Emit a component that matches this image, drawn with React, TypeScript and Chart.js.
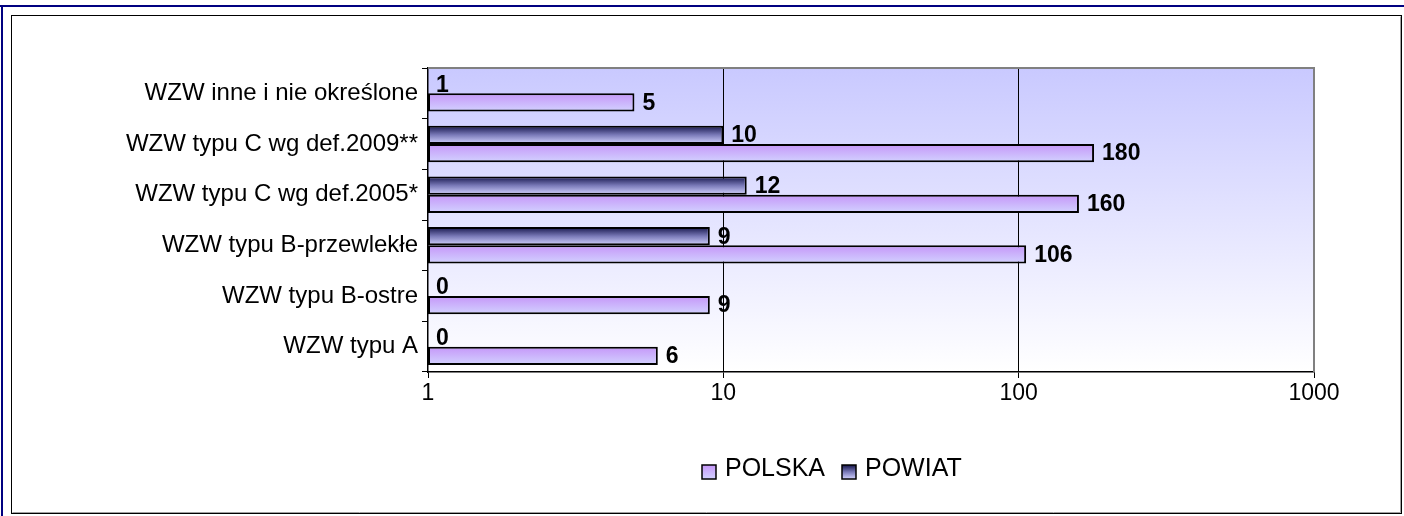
import React, { useEffect, useRef } from "react";
import { Chart, registerables } from "chart.js";

Chart.register(...registerables);

const categories = [
  "WZW inne i nie określone",
  "WZW typu C wg def.2009**",
  "WZW typu C wg def.2005*",
  "WZW typu B-przewlekłe",
  "WZW typu B-ostre",
  "WZW typu A",
];
const powiatValues = [1, 10, 12, 9, 0, 0];
const polskaValues = [5, 180, 160, 106, 9, 6];
const xTickValues = [1, 10, 100, 1000];
const legendNames = ["POLSKA", "POWIAT"];

const FONT = "'Liberation Sans', Arial, sans-serif";
const CAT_PCT = 0.72;

function barGradient(ctx: any, top: number, bottom: number, dark: boolean) {
  const g = ctx.createLinearGradient(0, top, 0, bottom);
  if (dark) {
    g.addColorStop(0, "#14144a");
    g.addColorStop(0.5, "#7a7ab8");
    g.addColorStop(1, "#d4d4ff");
  } else {
    g.addColorStop(0, "#c596f8");
    g.addColorStop(1, "#d2d2ff");
  }
  return g;
}

function scriptBg(dark: boolean, dsIndex: number) {
  return (c: any) => {
    const chart = c.chart;
    const ys = chart.scales && chart.scales.y;
    const area = chart.chartArea;
    if (!ys || !area) return dark ? "#6060a0" : "#cc99ff";
    const band = (area.bottom - area.top) / categories.length;
    const h = (band * CAT_PCT) / 2;
    const center = ys.getPixelForValue(c.dataIndex);
    const top = dsIndex === 0 ? center - h : center;
    return barGradient(chart.ctx, top, top + h, dark);
  };
}

const decorPlugin = {
  id: "decor",
  beforeDraw(chart: any) {
    const ctx = chart.ctx;
    const a = chart.chartArea;
    ctx.save();
    ctx.fillStyle = "#ffffff";
    ctx.fillRect(0, 0, chart.width, chart.height);
    ctx.fillStyle = "#000080";
    ctx.fillRect(0, 5, chart.width, 2);
    ctx.fillRect(1, 5, 2, chart.height - 5);
    ctx.strokeStyle = "#000000";
    ctx.lineWidth = 1;
    ctx.strokeRect(11.5, 15.5, 1390, 498);
    ctx.strokeStyle = "#a0a0a0";
    ctx.beginPath();
    ctx.moveTo(12.5, 512.5);
    ctx.lineTo(1400.5, 512.5);
    ctx.lineTo(1400.5, 16.5);
    ctx.stroke();
    const g = ctx.createLinearGradient(0, a.top, 0, a.bottom);
    g.addColorStop(0, "#c9c9ff");
    g.addColorStop(1, "#ffffff");
    ctx.fillStyle = g;
    ctx.fillRect(a.left, a.top, a.right - a.left, a.bottom - a.top);
    ctx.restore();
  },
  afterDraw(chart: any) {
    const ctx = chart.ctx;
    const a = chart.chartArea;
    ctx.save();
    ctx.strokeStyle = "#808080";
    ctx.lineWidth = 2;
    ctx.beginPath();
    ctx.moveTo(a.left, a.top);
    ctx.lineTo(a.right, a.top);
    ctx.lineTo(a.right, a.bottom);
    ctx.stroke();
    const items = [
      { name: legendNames[0], dark: false, x: 702 },
      { name: legendNames[1], dark: true, x: 842 },
    ];
    ctx.font = "25px " + FONT;
    ctx.textBaseline = "middle";
    ctx.textAlign = "left";
    items.forEach((it) => {
      ctx.fillStyle = barGradient(ctx, 465, 479, it.dark);
      ctx.fillRect(it.x, 465, 14, 14);
      ctx.strokeStyle = "#000000";
      ctx.lineWidth = 1.5;
      ctx.strokeRect(it.x, 465, 14, 14);
      ctx.fillStyle = "#000000";
      ctx.fillText(it.name, it.x + 23, 469);
    });
    ctx.restore();
  },
  afterDatasetsDraw(chart: any) {
    const ctx = chart.ctx;
    const a = chart.chartArea;
    const ys = chart.scales.y;
    const xs = chart.scales.x;
    const band = (a.bottom - a.top) / categories.length;
    const h = (band * CAT_PCT) / 2;
    ctx.save();
    ctx.font = "bold 23px " + FONT;
    ctx.fillStyle = "#000000";
    ctx.textBaseline = "middle";
    ctx.textAlign = "left";
    chart.data.datasets.forEach((ds: any, i: number) => {
      ds.data.forEach((v: number, j: number) => {
        const center = ys.getPixelForValue(j);
        const y = i === 0 ? center - h / 2 : center + h / 2;
        const x = v > 0 ? xs.getPixelForValue(v) : a.left;
        ctx.fillText(String(v), x + 8, y + 1);
      });
    });
    ctx.restore();
  },
};

export default function App() {
  const ref = useRef<HTMLCanvasElement | null>(null);
  useEffect(() => {
    document.body.style.margin = "0";
    const canvas = ref.current!;
    const chart = new Chart(canvas, {
      type: "bar",
      data: {
        labels: categories,
        datasets: [
          {
            label: legendNames[1],
            data: powiatValues,
            backgroundColor: scriptBg(true, 0),
            borderColor: "#000000",
            borderWidth: 2,
            borderSkipped: false,
            categoryPercentage: CAT_PCT,
            barPercentage: 1,
          },
          {
            label: legendNames[0],
            data: polskaValues,
            backgroundColor: scriptBg(false, 1),
            borderColor: "#000000",
            borderWidth: 2,
            borderSkipped: false,
            categoryPercentage: CAT_PCT,
            barPercentage: 1,
          },
        ],
      },
      options: {
        indexAxis: "y",
        responsive: false,
        animation: false,
        layout: { padding: { left: 0, top: 68, right: 90, bottom: 104 } },
        plugins: {
          legend: { display: false },
          tooltip: { enabled: false },
        },
        scales: {
          x: {
            type: "logarithmic",
            min: 1,
            max: 1000,
            afterBuildTicks: (s: any) => {
              s.ticks = xTickValues.map((v) => ({ value: v, major: true }));
            },
            afterFit: (s: any) => {
              s.height = 40;
            },
            ticks: {
              autoSkip: false,
              color: "#000000",
              font: { family: FONT, size: 23 },
              padding: 2,
              callback: (v: any) => String(v),
            },
            grid: {
              color: (c: any) =>
                c.tick && (c.tick.value === 10 || c.tick.value === 100) ? "#000000" : "rgba(0,0,0,0)",
              tickColor: "#000000",
              tickLength: 6,
              lineWidth: 1,
            },
            border: { display: true, color: "#000000", width: 1.5 },
          },
          y: {
            type: "category",
            afterFit: (s: any) => {
              s.width = 428;
            },
            ticks: {
              color: "#000000",
              font: { family: FONT, size: 24 },
              padding: 4,
            },
            grid: {
              offset: true,
              drawOnChartArea: false,
              drawTicks: true,
              tickLength: 6,
              tickColor: "#000000",
              color: "#000000",
            },
            border: { display: true, color: "#000000", width: 1.5 },
          },
        },
      },
      plugins: [decorPlugin],
    } as any);
    return () => chart.destroy();
  }, []);
  return (
    <div style={{ width: 1404, height: 516 }}>
      <canvas ref={ref} width={1404} height={516} />
    </div>
  );
}
